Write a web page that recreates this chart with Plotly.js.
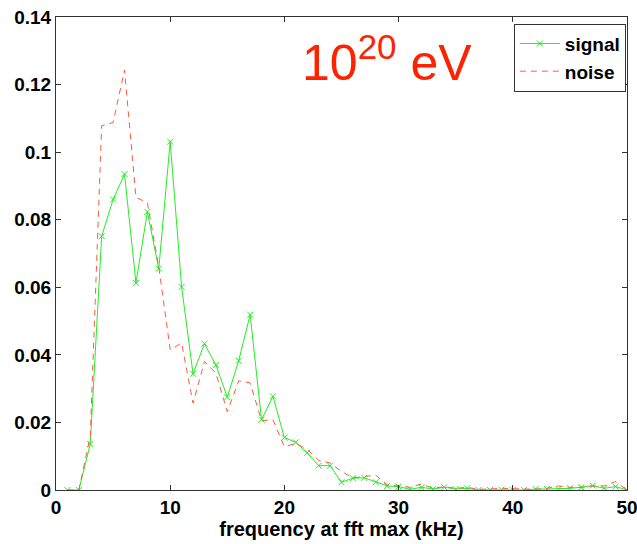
<!DOCTYPE html>
<html>
<head>
<meta charset="utf-8">
<script src="https://cdn.plot.ly/plotly-3.0.1.min.js"></script>
<style>html,body{margin:0;padding:0;background:#fff;}#chart{width:637px;height:544px;}</style>
</head>
<body>
<div id="chart"></div>
<script>
const freq = [1,2,3,4,5,6,7,8,9,10,11,12,13,14,15,16,17,18,19,20,21,22,23,24,25,26,27,28,29,30,31,32,33,34,35,36,37,38,39,40,41,42,43,44,45,46,47,48,49,50];
const signal = [0,0,0.0136,0.0751,0.086,0.0935,0.0613,0.0823,0.0655,0.1031,0.0601,0.0344,0.0433,0.037,0.0275,0.0383,0.0519,0.0208,0.0277,0.0155,0.0141,0.011,0.0072,0.0072,0.0023,0.0035,0.0036,0.0023,0.0012,0.001,0.0002,0.0008,0.0003,0.0008,0.0003,0.0005,0,0,0.0001,0,0,0.0003,0.0003,0.0003,0.0005,0.0008,0.0013,0.0005,0.001,0];
const noise = [0,0,0.016,0.1078,0.1088,0.1243,0.0866,0.085,0.066,0.0415,0.0435,0.0257,0.038,0.0346,0.0232,0.0323,0.0317,0.0205,0.0208,0.0128,0.0138,0.012,0.0088,0.008,0.0055,0.0036,0.004,0.0044,0.0015,0.0012,0.0008,0.0018,0.0005,0.001,0.0005,0.0008,0.0002,0.0003,0.0005,0.0004,0.0004,0.0002,0.0005,0.0012,0.0008,0.0008,0.0012,0.0012,0.0025,0];
const xTicks = [0,10,20,30,40,50];
const yTicks = [0,0.02,0.04,0.06,0.08,0.1,0.12,0.14];
const yTickText = ['0','0.02','0.04','0.06','0.08','0.1','0.12','0.14'];

function bold(size) {
  return {family: 'Liberation Sans, Arial, sans-serif', size: size, color: '#000', weight: 'bold'};
}
const traces = [
  {x: freq, y: signal, name: 'signal', type: 'scatter', mode: 'lines+markers',
   line: {color: '#22ee22', width: 1},
   marker: {symbol: 'x-thin', size: 6, color: '#22ee22', line: {color: '#22ee22', width: 1}}},
  {x: freq, y: noise, name: 'noise', type: 'scatter', mode: 'lines',
   line: {color: '#ff5a40', width: 1, dash: '6px,5px'}}
];
const layout = {
  width: 637, height: 544,
  margin: {l: 56, r: 10, t: 17, b: 54},
  paper_bgcolor: '#fff', plot_bgcolor: '#fff',
  showlegend: true,
  legend: {x: 0.998, xanchor: 'right', y: 0.986, yanchor: 'top', bordercolor: '#333', borderwidth: 1,
           bgcolor: '#fff', font: bold(19), tracegroupgap: 0, itemwidth: 40},
  xaxis: {range: [0, 50], tickvals: xTicks, ticks: 'inside', ticklen: 5, tickcolor: '#333',
          showline: true, linecolor: '#333', linewidth: 1, mirror: 'ticks', showgrid: false, zeroline: false,
          ticklabeloverflow: 'allow',
          tickfont: bold(19), title: {text: 'frequency at fft max (kHz)', font: bold(20), standoff: 0}},
  yaxis: {range: [0, 0.14], tickvals: yTicks, ticktext: yTickText, ticks: 'inside', ticklen: 5, tickcolor: '#333',
          showline: true, linecolor: '#333', linewidth: 1, mirror: 'ticks', showgrid: false, zeroline: false,
          ticklabeloverflow: 'allow',
          tickfont: bold(19)},
  annotations: [{x: 21.4, y: 0.1275, xref: 'x', yref: 'y', xanchor: 'left', yanchor: 'middle', showarrow: false,
    text: '10<sup>20</sup> eV', font: {family: 'Liberation Sans, Arial, sans-serif', size: 50, color: '#ff2200'}}]
};
Plotly.newPlot('chart', traces, layout, {displayModeBar: false, staticPlot: true});
</script>
</body>
</html>
